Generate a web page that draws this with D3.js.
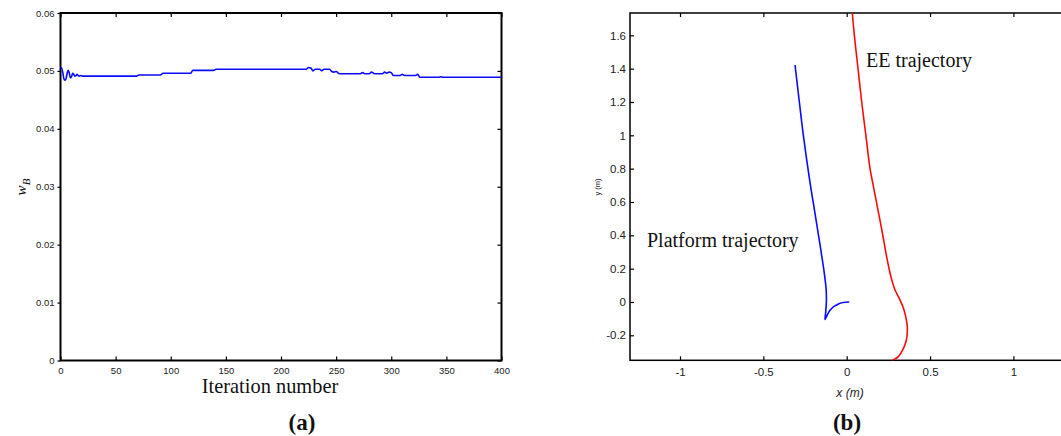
<!DOCTYPE html>
<html>
<head>
<meta charset="utf-8">
<script src="https://cdn.jsdelivr.net/npm/d3@7"></script>
<style>
  html, body { margin: 0; padding: 0; background: #fff; }
  svg { display: block; }
</style>
</head>
<body>
<svg id="chart" width="1061" height="436"></svg>
<script>
// ---------- Data: panel (a) ----------
const iterations = [0,1,2,3,4,5,6,7,8,9,10,11,12,13,14,15,16,17,18,20,69,71,91,93,118,120,139,141,223,225,227,229,231,235,237,239,244,246,248,250,253,272,274,276,280,282,285,292,294,296,298,300,302,308,310,312,322,324,326,343,345,347,400];
const wB = [0.0507,0.0505,0.0498,0.0487,0.0484,0.0486,0.0496,0.0501,0.0496,0.0488,0.0490,0.0496,0.0494,0.0491,0.0492,0.0494,0.0492,0.0491,0.0492,0.0491,0.0491,0.0493,0.0493,0.0496,0.0496,0.0501,0.0501,0.0503,0.0503,0.0506,0.0505,0.0500,0.0503,0.0503,0.0500,0.0503,0.0503,0.0499,0.0498,0.0499,0.0495,0.0495,0.0497,0.0495,0.0495,0.0498,0.0495,0.0495,0.0498,0.0496,0.0498,0.0497,0.0492,0.0492,0.0494,0.0492,0.0492,0.0494,0.0489,0.0489,0.0490,0.0489,0.0489];
const aXTicks = [0,50,100,150,200,250,300,350,400];
const aYTicks = [0,0.01,0.02,0.03,0.04,0.05,0.06];
const aYTickLabels = ["0","0.01","0.02","0.03","0.04","0.05","0.06"];

// ---------- Data: panel (b) ----------
const platformX = [0.015,-0.02,-0.04,-0.06,-0.08,-0.10,-0.115,-0.13,-0.126,-0.122,-0.123,-0.134,-0.158,-0.19,-0.222,-0.26,-0.284,-0.31];
const platformY = [0.0,-0.003,-0.008,-0.018,-0.03,-0.05,-0.075,-0.105,-0.06,0.0,0.07,0.17,0.33,0.53,0.73,1.0,1.2,1.422];
const eeX = [0.028,0.046,0.068,0.09,0.115,0.14,0.159,0.188,0.213,0.238,0.26,0.276,0.29,0.32,0.344,0.36,0.364,0.358,0.336,0.31,0.276,0.25];
const eeY = [1.80,1.6,1.4,1.2,1.0,0.8,0.7,0.55,0.42,0.28,0.174,0.112,0.072,0.012,-0.048,-0.12,-0.16,-0.228,-0.288,-0.328,-0.35,-0.37];
const bXTicks = [-1,-0.5,0,0.5,1];
const bXTickLabels = ["-1","-0.5","0","0.5","1"];
const bYTicks = [-0.2,0,0.2,0.4,0.6,0.8,1,1.2,1.4,1.6];
const bYTickLabels = ["-0.2","0","0.2","0.4","0.6","0.8","1","1.2","1.4","1.6"];

const svg = d3.select("#chart");
const SANS = "'Liberation Sans', Arial, Helvetica, sans-serif";
const SERIF = "'Liberation Serif', 'Times New Roman', serif";

// ================= Panel (a) =================
{
  const x = d3.scaleLinear().domain([0, 400]).range([60.5, 501.5]);
  const y = d3.scaleLinear().domain([0, 0.06]).range([360.5, 13]);
  const g = svg.append("g");

  g.append("rect").attr("x", x(0)).attr("y", y(0.06))
    .attr("width", x(400) - x(0)).attr("height", y(0) - y(0.06))
    .attr("fill", "none").attr("stroke", "#000").attr("stroke-width", 2);

  const axG = g.append("g").attr("transform", `translate(0,${y(0)})`)
    .call(d3.axisBottom(x).tickValues(aXTicks).tickSize(-4).tickPadding(7).tickFormat(d3.format("d")));
  const axT = g.append("g").attr("transform", `translate(0,${y(0.06)})`)
    .call(d3.axisTop(x).tickValues(aXTicks).tickSize(-4).tickFormat(""));
  const ayG = g.append("g").attr("transform", `translate(${x(0)},0)`)
    .call(d3.axisLeft(y).tickValues(aYTicks).tickSize(3).tickPadding(3).tickFormat((d, i) => aYTickLabels[i]));
  const ayR = g.append("g").attr("transform", `translate(${x(400)},0)`)
    .call(d3.axisRight(y).tickValues(aYTicks).tickSize(-4).tickFormat(""));
  [axG, axT, ayG, ayR].forEach(s => {
    s.select(".domain").remove();
    s.selectAll("line").attr("stroke", "#000").attr("stroke-width", 1.2);
    s.selectAll("text").attr("font-family", SANS).attr("font-size", 9.5).attr("fill", "#222");
  });

  g.append("path").datum(wB)
    .attr("d", d3.line().x((d, i) => x(iterations[i])).y(d => y(d)).curve(d3.curveMonotoneX))
    .attr("fill", "none").attr("stroke", "#0a0aff").attr("stroke-width", 1.6);

  g.append("text").attr("x", 270).attr("y", 393).attr("text-anchor", "middle")
    .attr("font-family", SERIF).attr("font-size", 20.4).attr("fill", "#111").text("Iteration number");

  const yl = g.append("text").attr("transform", "translate(26,187) rotate(-90)").attr("text-anchor", "middle")
    .attr("font-family", SERIF).attr("font-size", 15).attr("font-style", "italic").attr("fill", "#111");
  yl.append("tspan").text("w");
  yl.append("tspan").attr("font-size", 11).attr("dy", 4).text("B");

  g.append("text").attr("x", 302).attr("y", 430).attr("text-anchor", "middle")
    .attr("font-family", SERIF).attr("font-size", 23).attr("font-weight", "bold").attr("fill", "#111").text("(a)");
}

// ================= Panel (b) =================
{
  const x = d3.scaleLinear().domain([-1.3, 1.3]).range([630, 1063.4]);
  const y = d3.scaleLinear().domain([-0.35, 1.734]).range([360.3, 13]);
  const g = svg.append("g");

  svg.append("defs").append("clipPath").attr("id", "clipB").append("rect")
    .attr("x", x(-1.3)).attr("y", y(1.734)).attr("width", x(1.3) - x(-1.3)).attr("height", y(-0.35) - y(1.734));

  g.append("rect").attr("x", x(-1.3)).attr("y", y(1.734))
    .attr("width", x(1.3) - x(-1.3)).attr("height", y(-0.35) - y(1.734))
    .attr("fill", "none").attr("stroke", "#000").attr("stroke-width", 1.5);

  const axG = g.append("g").attr("transform", `translate(0,${y(-0.35)})`)
    .call(d3.axisBottom(x).tickValues(bXTicks).tickSize(-4).tickPadding(8).tickFormat((d, i) => bXTickLabels[i]));
  const axT = g.append("g").attr("transform", `translate(0,${y(1.734)})`)
    .call(d3.axisTop(x).tickValues(bXTicks).tickSize(-4).tickFormat(""));
  const ayG = g.append("g").attr("transform", `translate(${x(-1.3)},0)`)
    .call(d3.axisLeft(y).tickValues(bYTicks).tickSize(-4).tickPadding(4).tickFormat((d, i) => bYTickLabels[i]));
  [axG, axT, ayG].forEach(s => {
    s.select(".domain").remove();
    s.selectAll("line").attr("stroke", "#000").attr("stroke-width", 1.2);
    s.selectAll("text").attr("font-family", SANS).attr("font-size", 11.5).attr("fill", "#222");
  });

  const plat = platformX.map((v, i) => [v, platformY[i]]);
  const ee = eeX.map((v, i) => [v, eeY[i]]);
  const ln = d3.line().x(d => x(d[0])).y(d => y(d[1])).curve(d3.curveCatmullRom.alpha(0.5));
  const lines = g.append("g").attr("clip-path", "url(#clipB)");
  lines.append("path").datum(plat).attr("d", ln).attr("fill", "none").attr("stroke", "#0a0aff").attr("stroke-width", 1.6);
  lines.append("path").datum(ee).attr("d", ln).attr("fill", "none").attr("stroke", "#ff0a0a").attr("stroke-width", 1.6);

  g.append("text").attr("x", 647).attr("y", 247).attr("font-family", SERIF).attr("font-size", 20).attr("fill", "#111").text("Platform trajectory");
  g.append("text").attr("x", 866).attr("y", 67).attr("font-family", SERIF).attr("font-size", 20).attr("fill", "#111").text("EE trajectory");

  g.append("text").attr("x", 850).attr("y", 397).attr("text-anchor", "middle")
    .attr("font-family", SANS).attr("font-size", 12).attr("font-style", "italic").attr("fill", "#222").text("x (m)");
  g.append("text").attr("transform", "translate(600,187) rotate(-90)").attr("text-anchor", "middle")
    .attr("font-family", SANS).attr("font-size", 7.5).attr("fill", "#222").text("y (m)");

  g.append("text").attr("x", 847).attr("y", 430).attr("text-anchor", "middle")
    .attr("font-family", SERIF).attr("font-size", 23).attr("font-weight", "bold").attr("fill", "#111").text("(b)");
}
</script>
</body>
</html>
